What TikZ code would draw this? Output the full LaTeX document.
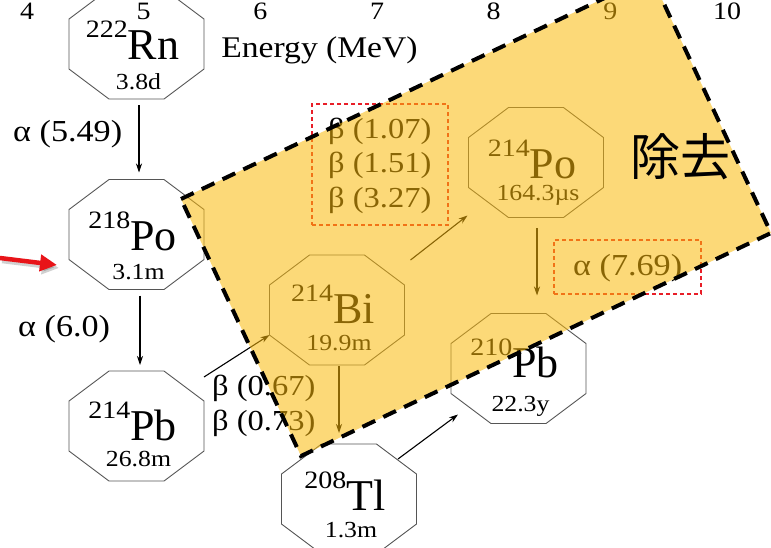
\documentclass[tikz,border=0pt]{standalone}
\usepackage{fontspec}
\setmainfont{Liberation Serif}[FakeStretch=1.12]
\newfontfamily\elfont{Liberation Serif}
\newfontfamily\cjkfont{Noto Sans CJK JP}
\usetikzlibrary{arrows.meta,calc}
\definecolor{octline}{RGB}{85,85,85}
\definecolor{boxred}{RGB}{232,30,40}
\definecolor{overlaycol}{RGB}{250,185,10}
\definecolor{arrowred}{RGB}{232,20,25}
\tikzset{
  nucbox/.style={minimum width=135pt, minimum height=110pt, inner sep=0pt, outer sep=0pt, draw=none},
  octstyle/.style={draw=octline, line width=0.9pt},
  dec/.style={-{Stealth[length=9pt,width=6pt]}, line width=1.1pt, black},
  lab/.style={anchor=base west, inner sep=0pt, font=\fontsize{29}{29}\selectfont},
  alab/.style={lab, font=\fontsize{30.5}{30.5}\selectfont},
  axisnum/.style={anchor=base, inner sep=0pt, font=\fontsize{25}{25}\selectfont},
  symtext/.style={anchor=base, inner sep=0pt},
  halftext/.style={anchor=base, inner sep=0pt, font=\fontsize{23}{23}\selectfont},
  redbox/.style={draw=boxred, dashed, dash pattern=on 4pt off 3pt, line width=1.6pt, inner sep=0pt},
  overlaybox/.style={fill=overlaycol, fill opacity=0.55, draw=none},
  overlayedge/.style={draw=black, line width=4pt, dash pattern=on 14pt off 9pt},
  bigarrow/.style={draw=arrowred, line width=4.5pt, -{Triangle[length=17pt,width=16pt]}}
}
\newcommand{\octo}[1]{%
  \draw[octstyle] ([xshift=-27.5pt]#1.north) -- ([xshift=27.5pt]#1.north)
    -- ([yshift=-30pt]#1.north east) -- ([yshift=30pt]#1.south east)
    -- ([xshift=27.5pt]#1.south) -- ([xshift=-27.5pt]#1.south)
    -- ([yshift=30pt]#1.south west) -- ([yshift=-30pt]#1.north west) -- cycle;}
\newcommand{\mknuc}[8]{%
  \node[nucbox] (#1) at (#2,#3) {};
  \octo{#1}
  \node[symtext] (#1-sym) at ($(#1.center)+(-4,#7)$)
    {\fontsize{25}{25}\selectfont\raisebox{22pt}{#4}{\elfont\fontsize{44}{44}\selectfont #5}};
  \node[halftext] (#1-hl) at ($(#1.center)+(2,#8)$) {#6};}
\begin{document}
\begin{tikzpicture}[x=1pt,y=-1pt]
\useasboundingbox (0,0) rectangle (771,547);
\clip (0,0) rectangle (771,547);
% axis
\node[axisnum] (ax4) at (27,19) {4};
\node[axisnum] (ax5) at (143.7,19) {5};
\node[axisnum] (ax6) at (260.3,19) {6};
\node[axisnum] (ax7) at (377,19) {7};
\node[axisnum] (ax8) at (493.7,19) {8};
\node[axisnum] (ax9) at (610.3,19) {9};
\node[axisnum] (ax10) at (727,19) {10};
\node[axisnum, font=\fontsize{30}{30}\selectfont] (energy) at (319.5,57) {Energy (MeV)};
% nuclides
\mknuc{rn}{136.5}{44}{222}{Rn}{3.8d}{15}{45}
\mknuc{po218}{136.5}{234.5}{218}{Po}{3.1m}{15.5}{44.5}
\mknuc{pb214}{136.5}{426}{214}{Pb}{26.8m}{14}{40}
\mknuc{bi}{337}{310}{214}{Bi}{19.9m}{13}{40}
\mknuc{po214}{536}{162.5}{214}{Po}{164.3µs}{15.5}{37.5}
\mknuc{pb210}{518.5}{368.5}{210}{Pb}{22.3y}{8.5}{42.5}
\mknuc{tl}{349}{499}{208}{Tl}{1.3m}{11}{38}
% decays
\draw[dec] ([xshift=2.5pt,yshift=-6pt]rn.south) -- ([xshift=2.5pt,yshift=7pt]po218.north);
\draw[dec] ([xshift=3.5pt,yshift=-6pt]po218.south) -- ([xshift=3.5pt,yshift=6pt]pb214.north);
\draw[dec] ([yshift=-6pt]pb214.north east) -- ([yshift=-25pt]bi.west);
\draw[dec] ([xshift=6pt,yshift=-5pt]bi.north east) -- ([xshift=-1pt,yshift=2pt]po214.south west);
\draw[dec] ([xshift=2pt,yshift=-1pt]bi.south) -- ([xshift=-10pt,yshift=11pt]tl.north);
\draw[dec] ([xshift=-18.5pt,yshift=-15pt]tl.north east) -- ([xshift=7pt,yshift=9pt]pb210.south west);
\draw[dec] ([xshift=1pt,yshift=-10.5pt]po214.south) -- ([xshift=18.5pt,yshift=18pt]pb210.north);
% labels
\node[alab] (a549) at (13,141) {α (5.49)};
\node[alab] (a60) at (18,336) {α (6.0)};
\node[lab] (b067) at (212,395) {β (0.67)};
\node[lab] (b073) at (212,430) {β (0.73)};
\node[lab] (b107) at (328,138) {β (1.07)};
\node[lab] (b151) at (328,172) {β (1.51)};
\node[lab] (b327) at (328,207) {β (3.27)};
\node[alab] (a769) at (573,275) {α (7.69)};
\node[redbox, minimum width=136pt, minimum height=121pt] (box1) at (380,164.5) {};
\node[redbox, minimum width=147pt, minimum height=54pt] (box2) at (627.5,267) {};
% overlay
\path[overlaybox] (181,199) -- (651,-24) -- (771,233) -- (301,456) -- cycle;
\draw[overlayedge] (181,199) -- (651,-24) -- (771,233) -- (301,456) -- cycle;
\node[inner sep=0pt, font=\cjkfont\fontsize{50}{50}\selectfont] (remove) at (680,157) {除去};
% red arrow
\coordinate (rstart) at (0,258);
\coordinate (rend) at (57,265);
\draw[bigarrow, draw=black, opacity=0.18, transform canvas={xshift=2pt,yshift=-3pt}] (rstart) -- (rend);
\draw[bigarrow] (rstart) -- (rend);
\end{tikzpicture}
\end{document}
